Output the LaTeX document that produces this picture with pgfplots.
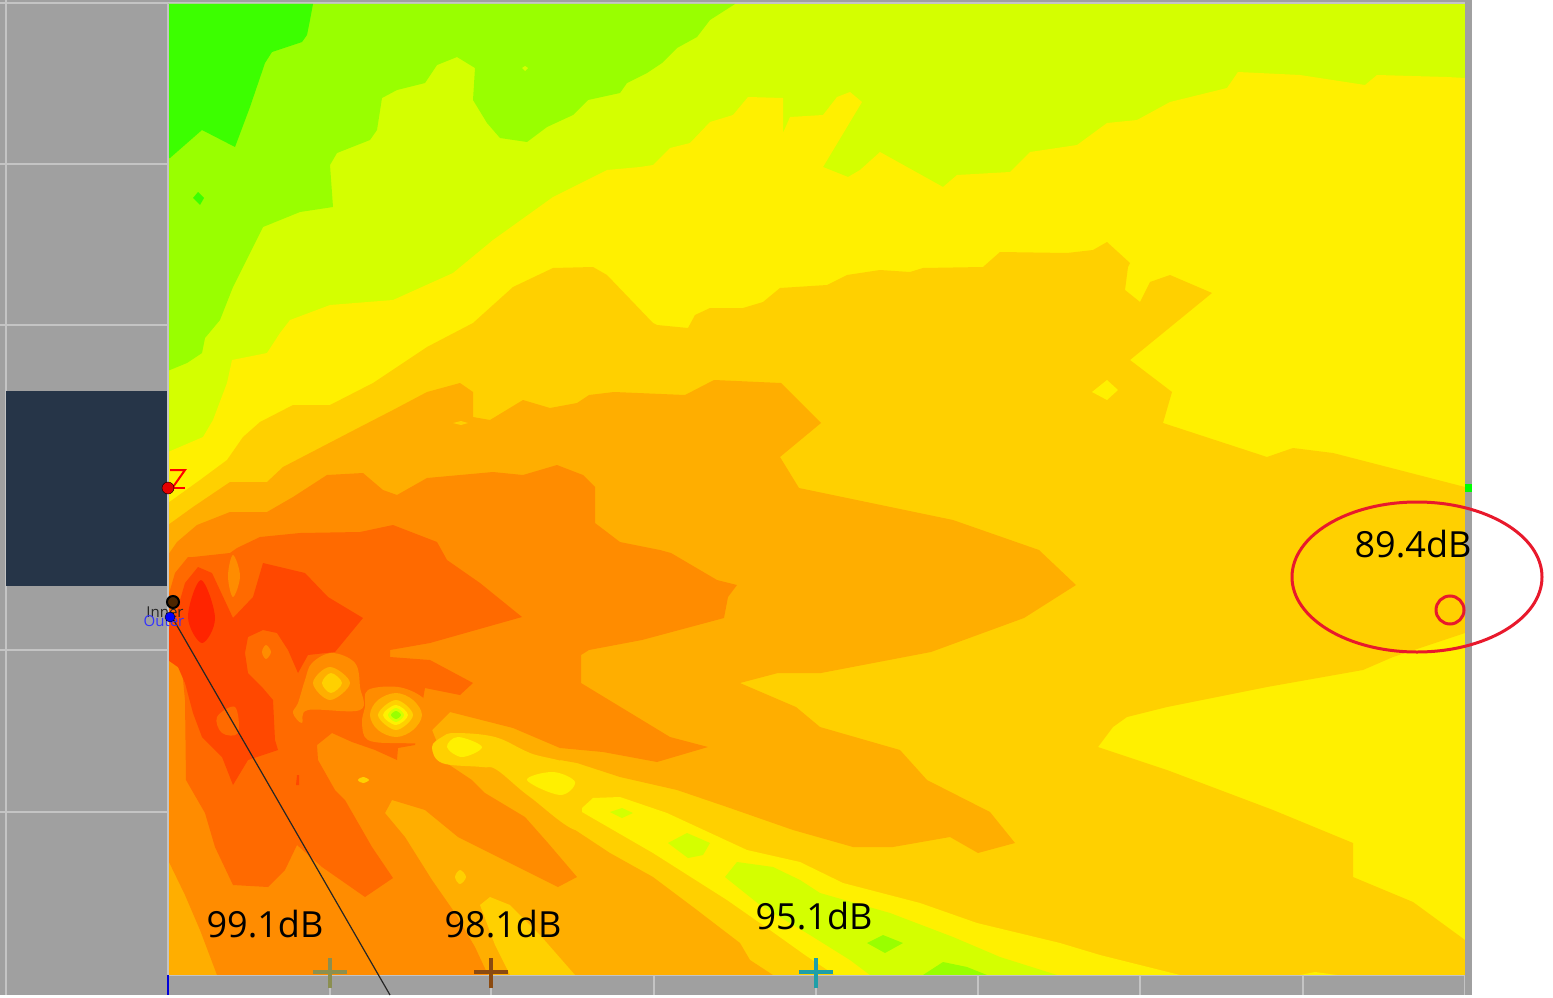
\documentclass[border=0pt]{standalone}
\usepackage{pgfplots}
\usepackage{fontspec}
\setmainfont{Open Sans}
\pgfplotsset{compat=1.18}
\definecolor{Gr}{HTML}{3CFF00}\definecolor{Li}{HTML}{99FF00}\definecolor{YG}{HTML}{D4FF00}
\definecolor{Ye}{HTML}{FFF000}\definecolor{A1}{HTML}{FFD000}\definecolor{A2}{HTML}{FFAE00}
\definecolor{O1}{HTML}{FF8C00}\definecolor{O2}{HTML}{FF6A00}\definecolor{R1}{HTML}{FF4800}
\definecolor{R2}{HTML}{FF2400}\definecolor{Gy}{HTML}{A0A0A0}\definecolor{GL}{HTML}{C4C4C4}
\definecolor{Nv}{HTML}{263548}\definecolor{Rd}{HTML}{E8192C}
\definecolor{CrA}{HTML}{8B8F50}\definecolor{CrB}{HTML}{8B4A10}\definecolor{CrC}{HTML}{1F9FA8}
\newcommand\PP[2]{\addplot[fill=#1,draw=none,forget plot] coordinates {#2} -- cycle;}
\newcommand\PS[2]{\addplot[fill=#1,draw=none,forget plot,smooth cycle,tension=0.6] coordinates {#2};}
\newcommand\LL[3]{\addplot[#1,line width=#2,forget plot] coordinates {#3};}
\begin{document}
\begin{tikzpicture}
\begin{axis}[hide axis,scale only axis,width=1553pt,height=998pt,xmin=0,xmax=1553,ymin=0,ymax=998,y dir=reverse,clip=true]
% frame
\PP{Gy}{(0,0)(1472,0)(1472,995)(0,995)}
\LL{GL}{1.5pt}{(0,164)(168,164)}
\LL{GL}{1.5pt}{(0,325)(168,325)}
\LL{GL}{1.5pt}{(0,650)(168,650)}
\LL{GL}{1.5pt}{(0,812)(168,812)}
\LL{GL}{1.5pt}{(6,0)(6,995)}
\LL{GL}{1.5pt}{(0,3)(1472,3)}
\LL{GL}{1.5pt}{(330,975)(330,995)}
\LL{GL}{1.5pt}{(491,975)(491,995)}
\LL{GL}{1.5pt}{(654,975)(654,995)}
\LL{GL}{1.5pt}{(816,975)(816,995)}
\LL{GL}{1.5pt}{(978,975)(978,995)}
\LL{GL}{1.5pt}{(1140,975)(1140,995)}
\LL{GL}{1.5pt}{(1303,975)(1303,995)}
\LL{GL}{1.5pt}{(1465,975)(1465,995)}
\PP{Nv}{(6,391)(167,391)(167,586)(6,586)}
% field
\PP{YG}{(168,4)(1465,4)(1465,975)(168,975)}
\PP{Li}{(168,4)(735,4)(710,20)(697,37)(677,48)(662,63)(647,73)(627,83)(620,93)(588,100)(573,115)(547,127)(527,142)(500,138)(487,123)(473,100)(475,68)(457,57)(437,65)(425,83)(397,90)(382,98)(377,130)(370,140)(337,153)(330,165)(333,207)(300,212)(263,227)(255,243)(233,287)(220,320)(205,338)(202,353)(187,363)(170,370)(168,370)}
\PP{Gr}{(168,4)(313,4)(310,20)(307,35)(302,42)(272,52)(265,63)(250,107)(235,147)(202,130)(170,158)(168,158)}
\PP{Gr}{(193,198)(198,192)(204,198)(200,205)}
\PP{YG}{(522,68)(525,66)(528,68)(525,71)}
\PP{Ye}{(168,452)(203,437)(213,420)(227,383)(232,360)(267,353)(280,333)(290,320)(330,305)(393,300)(453,273)(493,240)(507,230)(553,197)(607,170)(640,167)(653,165)(670,148)(690,143)(710,122)(733,115)(748,97)(783,98)(783,133)(790,117)(823,115)(837,97)(850,92)(862,102)(823,167)(848,177)(860,170)(880,152)(907,167)(943,187)(957,175)(1010,172)(1030,152)(1077,145)(1107,123)(1137,120)(1170,102)(1227,88)(1238,72)(1300,75)(1365,85)(1377,75)(1447,77)(1465,78)(1465,975)(168,975)}
\PP{A1}{(168,503)(200,480)(227,460)(243,437)(260,422)(293,405)(330,405)(373,383)(427,347)(473,323)(513,287)(553,268)(593,267)(607,275)(653,323)(657,325)(688,328)(695,315)(710,308)(743,308)(763,302)(780,288)(827,285)(847,275)(880,270)(910,272)(923,268)(983,267)(1000,252)(1067,253)(1093,250)(1107,242)(1130,263)(1128,267)(1125,290)(1140,302)(1150,282)(1170,275)(1212,293)(1130,360)(1172,392)(1163,423)(1267,457)(1293,448)(1333,453)(1465,487)(1465,633)(1393,657)(1363,670)(1267,687)(1167,707)(1127,717)(1113,727)(1098,747)(1167,770)(1273,810)(1353,843)(1353,877)(1413,902)(1465,940)(1465,975)(168,975)}
\PP{Ye}{(1092,392)(1107,380)(1118,390)(1107,400)}
\PP{A2}{(168,525)(193,507)(230,482)(267,482)(283,467)(360,427)(393,410)(427,392)(460,383)(473,392)(473,417)(490,420)(523,400)(550,408)(577,403)(589,395)(614,392)(685,395)(714,380)(781,383)(821,423)(780,457)(799,488)(953,520)(1039,550)(1076,585)(1024,618)(931,652)(821,673)(778,673)(740,683)(796,707)(820,727)(900,750)(927,780)(990,812)(1015,843)(978,853)(950,837)(893,847)(853,847)(793,830)(727,807)(677,790)(620,777)(577,763)(560,760)(560,820)(610,853)(653,877)(693,907)(740,943)(750,960)(773,975)(168,975)}
\PP{A1}{(453,423)(461,421)(468,423)(461,425)}
\PP{O1}{(168,555)(177,542)(197,525)(230,512)(267,512)(293,497)(327,475)(363,473)(383,490)(397,495)(427,478)(493,472)(523,475)(557,465)(583,475)(595,487)(595,523)(620,542)(660,550)(671,553)(717,580)(737,585)(728,597)(724,618)(642,640)(589,650)(581,655)(581,683)(642,720)(670,737)(708,747)(657,762)(603,752)(560,748)(513,728)(450,712)(432,730)(445,762)(472,780)(485,793)(525,817)(548,843)(577,877)(558,887)(498,857)(458,837)(425,810)(392,800)(385,813)(405,837)(432,880)(455,913)(475,947)(488,975)(217,975)(200,930)(185,895)(168,860)}
\PP{A1}{(480,905)(490,897)(510,905)(540,935)(575,975)(510,975)(495,945)}
\PS{A1}{(455,877)(460,870)(466,877)(460,884)}
\PS{A1}{(358,780)(363,777)(369,780)(363,783)}
\PP{O2}{(168,597)(175,573)(188,557)(193,557)(230,553)(237,548)(260,537)(300,533)(360,532)(393,525)(437,542)(447,560)(480,583)(522,617)(430,643)(390,650)(390,657)(430,660)(473,683)(460,695)(425,688)(415,745)(398,748)(397,760)(375,750)(352,742)(332,733)(317,745)(318,760)(335,790)(345,800)(372,847)(393,878)(365,897)(322,867)(297,845)(285,870)(268,887)(233,885)(215,847)(205,813)(186,780)(185,700)(182,670)(168,660)}
\PS{O1}{(228,576)(233,555)(240,576)(233,597)}
\PP{R1}{(168,630)(178,607)(185,583)(198,567)(212,573)(233,618)(253,597)(263,563)(305,573)(328,597)(363,618)(335,652)(308,655)(298,673)(288,650)(277,633)(263,630)(248,637)(245,653)(248,673)(262,687)(273,700)(275,740)(278,750)(248,760)(233,785)(222,757)(202,737)(193,713)(185,683)(178,667)(168,660)}
\PS{O1}{(262,652)(266,645)(271,652)(266,659)}
\PS{O2}{(217,717)(235,707)(238,733)(222,733)}
\PS{R2}{(201,580)(215,618)(202,643)(188,617)}
\PP{R1}{(297,775)(299,775)(299,785)(296,785)}
% bright spot 1
\PS{O1}{(305,680)(312,663)(332,653)(355,663)(360,687)(360,710)(308,710)(302,723)(293,713)(298,703)}
\PS{A2}{(313,683)(330,667)(350,683)(330,700)}
\PS{A1}{(322,683)(331,673)(342,683)(331,693)}
% bright spot 2
\PS{O1}{(365,707)(368,690)(398,687)(422,697)(432,713)(428,740)(398,743)(368,740)(362,723)}
\PS{A2}{(370,715)(378,700)(396,693)(413,700)(422,715)(413,730)(396,737)(378,730)}
\PS{A1}{(378,715)(396,700)(413,715)(396,730)}
\PS{Ye}{(383,715)(396,705)(408,715)(396,725)}
\PS{YG}{(388,715)(396,708)(404,715)(396,722)}
\PS{Li}{(391,715)(396,711)(401,715)(396,719)}
% streak
\PS{A1}{(432,747)(442,737)(455,733)(495,737)(530,753)(580,772)(580,830)(530,797)(497,770)(482,767)(442,763)}
\PS{Ye}{(447,747)(458,737)(482,747)(462,757)}
\PS{Ye}{(527,780)(553,772)(575,782)(560,795)}
\PP{Ye}{(582,808)(593,798)(620,797)(667,813)(747,850)(800,862)(843,883)(920,903)(977,923)(1060,943)(1100,955)(1180,975)(835,975)(805,955)(770,930)(727,900)(653,853)(582,812)}
\PP{Ye}{(1300,975)(1315,972)(1337,975)}
\PP{YG}{(610,812)(622,808)(633,813)(622,818)}
\PP{YG}{(668,843)(687,833)(710,843)(703,855)(688,858)}
\PP{YG}{(725,877)(737,862)(773,867)(800,880)(820,893)(890,913)(953,937)(1000,957)(1057,975)(870,975)(850,960)(810,935)(760,905)}
\PP{Li}{(867,943)(883,935)(903,943)(885,953)}
\PP{Li}{(923,975)(943,962)(967,967)(987,975)}
% edges
\LL{GL}{2pt}{(168,4)(168,975)}
\LL{GL}{1.5pt}{(168,975.5)(1465,975.5)}
\PP{Gy}{(1465,0)(1472,0)(1472,995)(1465,995)}
\PP{green}{(1465,484)(1472,484)(1472,492)(1465,492)}
\LL{blue!85!black}{2.5pt}{(168,975)(168,995)}
% crosses
\LL{CrA}{3.5pt}{(313,972)(347,972)}
\LL{CrA}{3.5pt}{(330,958)(330,988)}
\LL{CrB}{3.5pt}{(474,972)(508,972)}
\LL{CrB}{3.5pt}{(491,958)(491,988)}
\LL{CrC}{3.5pt}{(799,972)(833,972)}
\LL{CrC}{3.5pt}{(816,958)(816,988)}
% sensor line and markers
\LL{black!85}{1.2pt}{(172,617)(390,995)}
\addplot[only marks,mark=*,mark size=6pt,mark options={fill=red!90!black,draw=none},forget plot] coordinates {(168,488)};
\LL{red}{2pt}{(170,470)(185,470)(173,487)}
\LL{red}{2pt}{(173,488)(185,488)}
\addplot[only marks,mark=*,mark size=6pt,mark options={fill=black!70!orange,draw=black,line width=2pt},forget plot] coordinates {(173,602)};
\addplot[only marks,mark=*,mark size=5pt,mark options={fill=blue,draw=none},forget plot] coordinates {(170,617)};
\node[font=\fontsize{15}{15}\selectfont,text=black!85] at (axis cs:165,612) {Inner};
\node[font=\fontsize{15}{15}\selectfont,text=blue!80] at (axis cs:164,621) {Outer};
% annotations
\node[font=\fontsize{36}{40}\selectfont] at (axis cs:265,924) {99.1dB};
\node[font=\fontsize{36}{40}\selectfont] at (axis cs:503,924) {98.1dB};
\node[font=\fontsize{36}{40}\selectfont] at (axis cs:814,916) {95.1dB};
\node[font=\fontsize{36}{40}\selectfont] at (axis cs:1413,544) {89.4dB};
\draw[Rd,line width=3pt] (axis cs:1417,577) ellipse [x radius=125pt,y radius=75pt];
\addplot[only marks,mark=o,mark size=14pt,mark options={draw=Rd,line width=3pt},forget plot] coordinates {(1450,610)};
\end{axis}
\pgfresetboundingbox
\useasboundingbox (0,0) rectangle (1553pt,998pt);
\end{tikzpicture}
\end{document}
